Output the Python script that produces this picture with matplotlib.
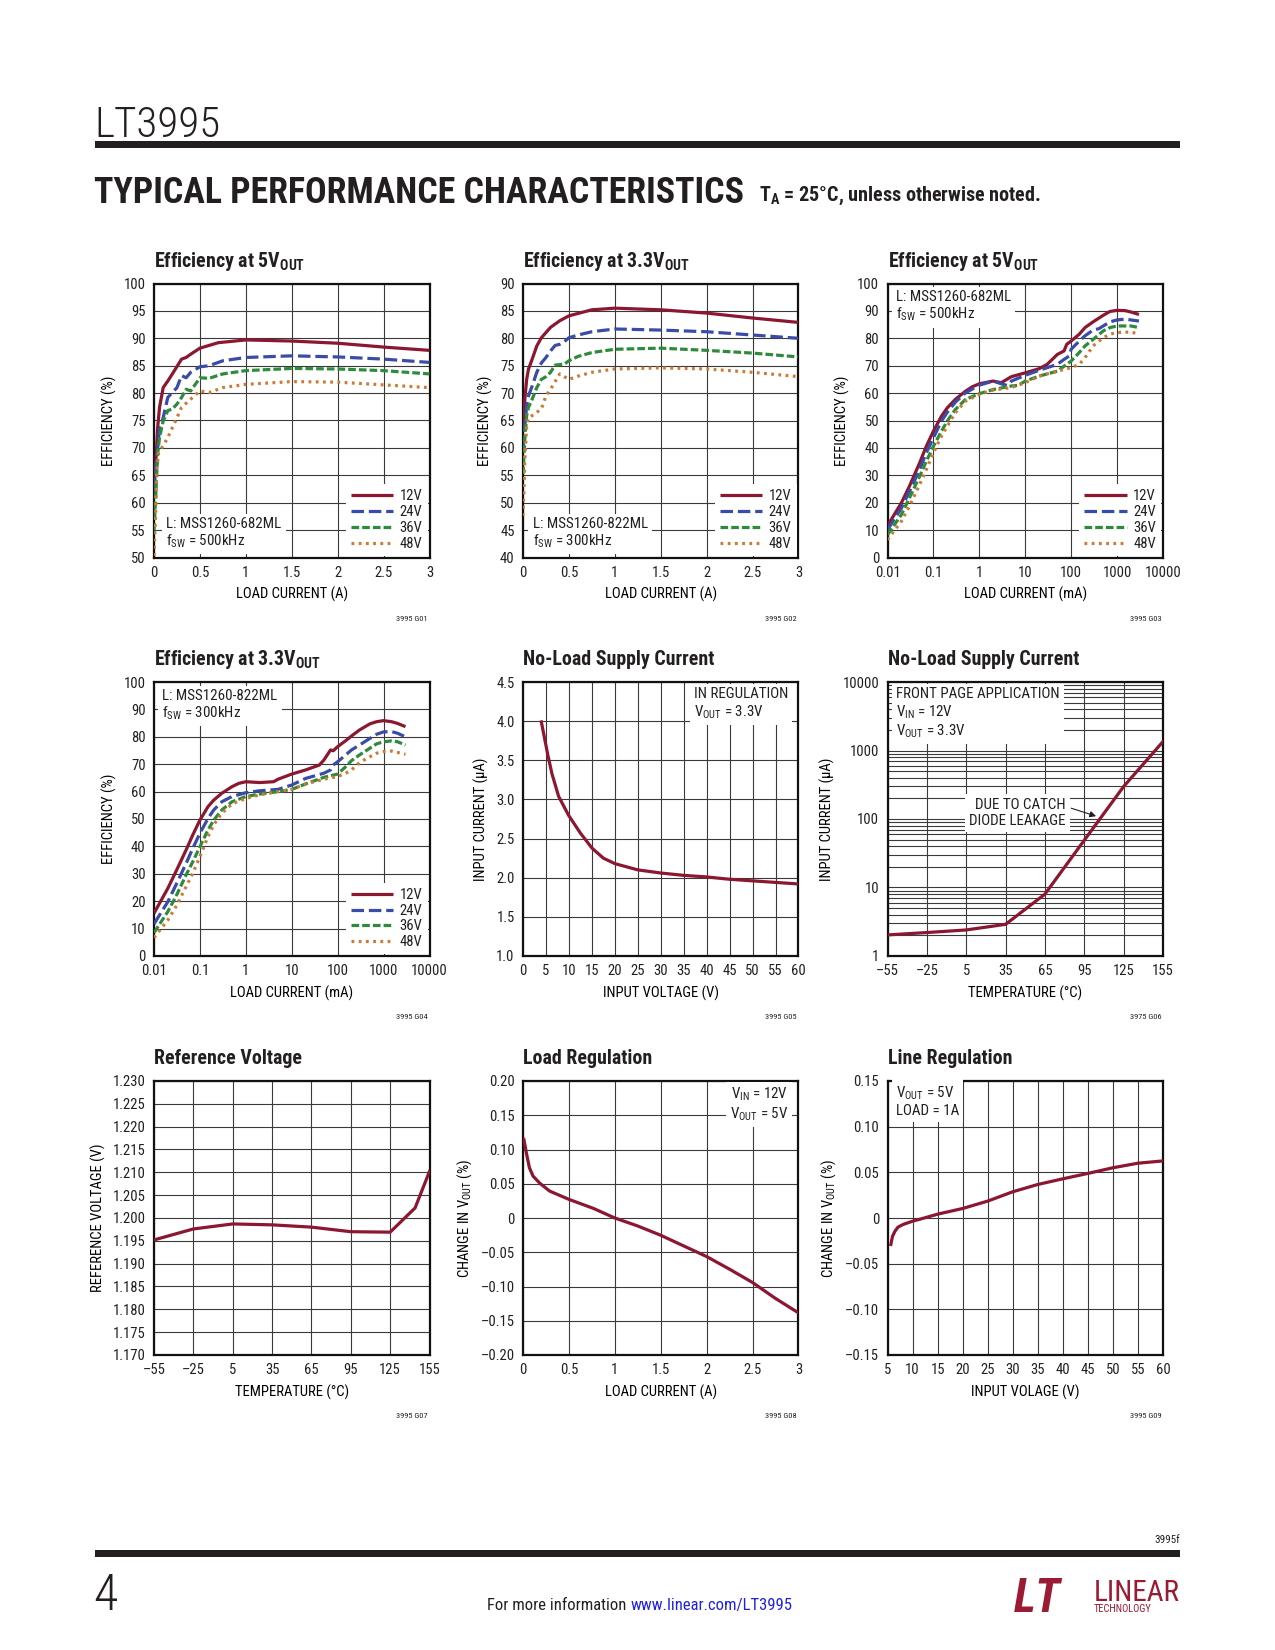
import matplotlib
matplotlib.use("Agg")
import matplotlib.pyplot as plt
from matplotlib import font_manager as fm
from matplotlib.patches import Rectangle

# ---------------- DATA ----------------
series_names = ["12V", "24V", "36V", "48V"]

# Efficiency at 5VOUT (linear, A)
e1_x12 = [0.0, 0.02, 0.04, 0.06, 0.1, 0.15, 0.2, 0.3, 0.35, 0.4, 0.5, 0.7, 1.0, 1.5, 2.0, 2.5, 3.0]
e1_y12 = [63.1, 67.6, 73.7, 77.4, 81.0, 82.2, 83.5, 86.2, 86.5, 87.1, 88.2, 89.2, 89.7, 89.5, 89.1, 88.4, 87.8]
e1_x24 = [0.0, 0.04, 0.06, 0.1, 0.15, 0.2, 0.25, 0.3, 0.35, 0.4, 0.5, 0.6, 0.75, 1.0, 1.5, 2.0, 2.5, 3.0]
e1_y24 = [62.2, 70.0, 73.4, 75.5, 79.2, 80.1, 81.0, 83.2, 82.8, 83.8, 84.8, 85.0, 85.9, 86.5, 86.8, 86.6, 86.2, 85.6]
e1_x36 = [0.0, 0.02, 0.04, 0.06, 0.1, 0.15, 0.2, 0.25, 0.3, 0.35, 0.4, 0.45, 0.5, 0.6, 0.75, 1.0, 1.5, 2.0, 2.5, 3.0]
e1_y36 = [54.9, 61.6, 68.9, 71.9, 74.9, 76.8, 77.1, 78.0, 79.2, 80.7, 80.4, 81.6, 82.8, 82.7, 83.5, 84.1, 84.5, 84.4, 84.1, 83.5]
e1_x48 = [0.0, 0.02, 0.03, 0.05, 0.1, 0.15, 0.2, 0.25, 0.3, 0.4, 0.5, 0.6, 0.75, 1.0, 1.5, 2.0, 2.5, 3.0]
e1_y48 = [50.3, 59.1, 65.8, 69.2, 70.4, 71.9, 73.7, 75.5, 77.4, 78.9, 80.4, 80.1, 81.0, 81.6, 82.1, 82.0, 81.5, 81.0]

# Efficiency at 3.3VOUT (linear, A)
e2_x12 = [0.0, 0.02, 0.04, 0.06, 0.1, 0.15, 0.2, 0.3, 0.4, 0.5, 0.75, 1.0, 1.5, 2.0, 2.5, 3.0]
e2_y12 = [63.7, 68.9, 72.5, 74.4, 76.2, 78.6, 80.1, 82.0, 83.2, 84.1, 85.2, 85.5, 85.2, 84.6, 83.7, 82.9]
e2_x24 = [0.0, 0.02, 0.04, 0.06, 0.1, 0.15, 0.2, 0.25, 0.3, 0.35, 0.4, 0.45, 0.5, 0.6, 0.75, 1.0, 1.5, 2.0, 2.5, 3.0]
e2_y24 = [59.8, 64.0, 67.7, 69.5, 71.3, 73.8, 75.5, 76.5, 77.7, 78.7, 78.9, 79.4, 80.1, 80.6, 81.2, 81.7, 81.5, 81.2, 80.6, 80.0]
e2_x36 = [0.0, 0.02, 0.04, 0.06, 0.1, 0.15, 0.2, 0.25, 0.3, 0.35, 0.45, 0.5, 0.6, 0.75, 1.0, 1.5, 2.0, 2.5, 3.0]
e2_y36 = [55.2, 61.6, 65.9, 67.4, 68.9, 71.0, 72.5, 73.0, 73.8, 75.1, 75.3, 75.9, 76.7, 77.4, 78.0, 78.2, 77.8, 77.3, 76.6]
e2_x48 = [0.0, 0.01, 0.02, 0.04, 0.06, 0.1, 0.15, 0.2, 0.25, 0.3, 0.35, 0.4, 0.5, 0.6, 0.75, 1.0, 1.5, 2.0, 2.5, 3.0]
e2_y48 = [47.6, 51.9, 57.9, 64.0, 65.5, 65.9, 66.5, 67.1, 69.5, 70.7, 72.1, 73.5, 72.5, 73.1, 73.8, 74.4, 74.6, 74.4, 73.8, 73.0]

# Efficiency at 5VOUT (log, mA)
e3_x12 = [0.01, 0.02, 0.03, 0.05, 0.07, 0.1, 0.15, 0.2, 0.3, 0.5, 0.7, 1, 2, 3, 5, 10, 20, 30, 50, 70, 80, 100, 150, 200, 300, 500, 700, 1000, 1500, 2000, 3000]
e3_y12 = [11.6, 19.9, 26.0, 34.5, 40.6, 46.1, 51.6, 54.6, 57.7, 60.7, 62.3, 63.4, 64.4, 63.8, 66.0, 67.4, 68.9, 70.5, 74.1, 75.4, 77.8, 79.0, 81.5, 83.9, 86.0, 88.4, 89.8, 90.2, 90.1, 89.6, 88.7]
e3_x24 = [0.01, 0.02, 0.03, 0.05, 0.07, 0.1, 0.15, 0.2, 0.3, 0.5, 1, 2, 3, 4, 5, 10, 20, 50, 70, 90, 100, 150, 200, 300, 400, 500, 700, 1000, 1500, 2000, 3000]
e3_y24 = [10.1, 18.0, 24.1, 32.1, 38.2, 43.7, 49.8, 53.0, 56.7, 60.1, 62.9, 64.4, 63.4, 62.8, 64.4, 66.5, 68.3, 70.5, 72.3, 73.5, 76.0, 79.0, 80.9, 83.0, 83.5, 84.5, 86.0, 86.7, 87.0, 86.7, 86.3]
e3_x36 = [0.01, 0.02, 0.03, 0.05, 0.07, 0.1, 0.15, 0.2, 0.3, 0.5, 1, 2, 5, 7, 10, 20, 50, 100, 150, 200, 300, 500, 700, 1000, 2000, 3000]
e3_y36 = [8.3, 15.6, 21.7, 29.6, 35.1, 40.6, 46.1, 49.8, 54.0, 57.7, 59.8, 61.3, 62.6, 62.8, 64.4, 66.2, 68.0, 71.7, 74.8, 77.2, 79.6, 82.7, 83.9, 84.5, 84.5, 83.9]
e3_x48 = [0.01, 0.02, 0.03, 0.05, 0.07, 0.1, 0.15, 0.2, 0.3, 0.5, 1, 2, 5, 10, 20, 50, 100, 150, 200, 300, 500, 700, 1000, 2000, 3000]
e3_y48 = [6.5, 13.2, 18.7, 26.6, 32.1, 38.2, 44.3, 47.9, 52.8, 57.1, 59.5, 61.1, 62.0, 63.8, 66.2, 68.0, 69.3, 70.5, 72.9, 77.2, 80.2, 81.5, 82.1, 82.3, 81.5]

# Efficiency at 3.3VOUT (log, mA)
e4_x12 = [0.01, 0.02, 0.03, 0.05, 0.07, 0.1, 0.15, 0.2, 0.3, 0.5, 0.7, 1, 2, 4, 5, 10, 20, 40, 50, 70, 80, 100, 150, 200, 300, 500, 700, 1000, 1500, 2000, 3000]
e4_y12 = [15.6, 24.7, 30.8, 38.7, 44.2, 49.6, 54.5, 56.9, 59.4, 61.8, 63.0, 63.6, 63.3, 63.6, 64.5, 66.4, 67.9, 69.7, 71.5, 75.2, 74.9, 76.4, 78.6, 80.3, 82.5, 84.7, 85.5, 85.9, 85.5, 84.9, 83.7]
e4_x24 = [0.01, 0.02, 0.03, 0.05, 0.07, 0.1, 0.15, 0.2, 0.3, 0.5, 1, 2, 5, 10, 20, 50, 70, 80, 100, 150, 200, 300, 500, 700, 1000, 1500, 2000, 3000]
e4_y24 = [11.7, 19.8, 25.9, 33.8, 39.3, 44.8, 50.2, 53.3, 56.3, 58.2, 59.6, 60.3, 60.8, 62.4, 64.8, 66.7, 67.9, 69.7, 70.9, 73.4, 75.2, 77.0, 79.4, 80.9, 81.8, 81.9, 81.3, 80.0]
e4_x36 = [0.01, 0.02, 0.03, 0.05, 0.07, 0.1, 0.15, 0.2, 0.3, 0.5, 1, 2, 5, 10, 20, 50, 100, 150, 200, 300, 500, 700, 1000, 1500, 2000, 3000]
e4_y36 = [8.5, 16.2, 21.7, 29.6, 34.4, 39.9, 46.0, 49.6, 53.3, 56.3, 58.2, 59.1, 60.0, 60.8, 62.8, 65.2, 66.4, 69.1, 71.3, 73.4, 75.8, 77.4, 78.2, 78.5, 78.2, 77.0]
e4_x48 = [0.01, 0.02, 0.03, 0.05, 0.07, 0.1, 0.15, 0.2, 0.3, 0.5, 1, 2, 5, 10, 20, 50, 100, 150, 200, 300, 500, 700, 1000, 1500, 2000, 3000]
e4_y48 = [6.7, 13.1, 18.0, 25.3, 30.2, 36.3, 43.6, 47.9, 52.1, 55.5, 57.5, 58.8, 60.0, 60.8, 62.8, 64.5, 65.5, 66.7, 67.9, 70.6, 72.7, 74.0, 74.6, 74.8, 74.3, 73.6]

# No-load supply current vs input voltage
nl_vin = [4.0, 5.4, 6.3, 7.75, 9.9, 12.5, 15, 17.5, 20, 25, 30, 35, 40, 45, 50, 55, 60]
nl_iq = [3.99, 3.57, 3.33, 3.04, 2.80, 2.57, 2.38, 2.25, 2.18, 2.10, 2.06, 2.03, 2.01, 1.98, 1.96, 1.94, 1.92]

# No-load supply current vs temperature
nt_temp = [-55, -25, 5, 35, 65, 95, 125, 155]
nt_iq = [2.03, 2.2, 2.4, 2.9, 8.0, 49, 298, 1350]

# Reference voltage vs temperature
rv_temp = [-55, -25, 5, 35, 65, 95, 125, 144, 155]
rv_v = [1.1952, 1.1976, 1.1987, 1.1985, 1.1980, 1.1970, 1.1969, 1.2022, 1.2102]

# Load regulation
lr_i = [0.01, 0.04, 0.07, 0.11, 0.185, 0.29, 0.5, 0.765, 1.0, 1.25, 1.5, 1.75, 2.0, 2.25, 2.5, 2.75, 3.0]
lr_dv = [0.1146, 0.0927, 0.0733, 0.061, 0.0505, 0.0393, 0.0272, 0.0141, 0.0, -0.0117, -0.0252, -0.0408,
         -0.0563, -0.0748, -0.0942, -0.1175, -0.1385]

# Line regulation
ln_vin = [5.67, 6.0, 6.5, 7.1, 8.1, 10, 12, 15, 20, 25, 30, 35, 40, 45, 50, 55, 60]
ln_dv = [-0.029, -0.020, -0.0144, -0.010, -0.0071, -0.0035, -0.0005, 0.0042, 0.0104, 0.0185, 0.0287,
         0.0367, 0.0429, 0.0488, 0.055, 0.0600, 0.0625]

# tick labels
lin3_ticks = [0, 0.5, 1, 1.5, 2, 2.5, 3]
lin3_labels = ["0", "0.5", "1", "1.5", "2", "2.5", "3"]
log_ticks = [0.01, 0.1, 1, 10, 100, 1000, 10000]
log_labels = ["0.01", "0.1", "1", "10", "100", "1000", "10000"]
temp_ticks = [-55, -25, 5, 35, 65, 95, 125, 155]
temp_labels = ["\u201355", "\u201325", "5", "35", "65", "95", "125", "155"]

# ---------------- STYLE ----------------
names = {f.name for f in fm.fontManager.ttflist}
COND = next((n for n in ["Liberation Sans Narrow", "Roboto Condensed", "Open Sans Condensed",
                         "Liberation Sans"] if n in names), "DejaVu Sans")
plt.rcParams["font.family"] = [COND, "DejaVu Sans"]
plt.rcParams["lines.scale_dashes"] = False
TXT = "#231F20"
GRID = "#3a3a3a"
plt.rcParams["text.color"] = TXT

COLORS = ["#8C1730", "#3A4BA8", "#2F8B3C", "#CC7A34"]
STYLES = ["-", (0, (9, 3.5)), (0, (5.5, 2.2)), (0, (2, 3.2))]
LW = 2.3

W, H = 1275, 1650
fig = plt.figure(figsize=(W / 100, H / 100), dpi=100)

COLS = [154, 523, 887.5]
ROWS = [283.5, 682, 1081]
AW, AH = 275.5, 274


def make_ax(c, r):
    return fig.add_axes([COLS[c] / W, 1 - (ROWS[r] + AH) / H, AW / W, AH / H])


def setup(ax, xlim, ylim, xticks, xlabels, yticks, ylabels, xlabel, ylabel, title, gid,
          xlog=False, ylog=False):
    if xlog:
        ax.set_xscale("log")
    if ylog:
        ax.set_yscale("log")
    ax.set_xlim(*xlim)
    ax.set_ylim(*ylim)
    ax.set_xticks(xticks, xlabels)
    ax.set_yticks(yticks, ylabels)
    ax.minorticks_off()
    ax.grid(True, which="major", color=GRID, lw=0.8)
    ax.set_axisbelow(True)
    ax.tick_params(length=0, pad=6, labelsize=10.5, colors=TXT)
    for s in ax.spines.values():
        s.set_linewidth(1.6)
        s.set_color("#111111")
    ax.set_xlabel(xlabel, fontsize=10.5, labelpad=5)
    ax.set_ylabel(ylabel, fontsize=10.5, labelpad=5)
    ax.annotate(title, xy=(0, 1), xycoords="axes fraction", xytext=(0, 12),
                textcoords="offset points", ha="left", va="baseline",
                fontsize=14.3, fontweight="bold")
    ax.annotate(gid, xy=(1, 0), xycoords="axes fraction", xytext=(-1, -44),
                textcoords="offset points", ha="right", va="center", fontsize=6)


def note(ax, x, y, s, ha="left"):
    ax.text(x, y, s, transform=ax.transAxes, ha=ha, va="center", fontsize=10.8,
            multialignment=ha, linespacing=1.15, zorder=3,
            bbox=dict(fc="white", ec="none", pad=3))


def four(ax, xs, ys):
    for x, y, c, ls, lab in zip(xs, ys, COLORS, STYLES, series_names):
        ax.plot(x, y, color=c, ls=ls, lw=LW, label=lab, zorder=4, solid_capstyle="butt")
    leg = ax.legend(loc="lower right", fontsize=10.5, handlelength=2.9, handletextpad=0.45,
                    labelspacing=0.12, borderpad=0.35, borderaxespad=0.12, frameon=True,
                    fancybox=False, framealpha=1, facecolor="white", edgecolor="none")
    leg.get_frame().set_linewidth(0)


SUB_OUT = r"$\mathregular{_{OUT}}$"
SUB_SW = r"$\mathregular{_{SW}}$"
SUB_IN = r"$\mathregular{_{IN}}$"

# ---- Row 1 ----
ax = make_ax(0, 0)
setup(ax, (0, 3), (50, 100), lin3_ticks, lin3_labels, list(range(50, 101, 5)),
      [str(v) for v in range(50, 101, 5)], "LOAD CURRENT (A)", "EFFICIENCY (%)",
      "Efficiency at 5V" + SUB_OUT, "3995 G01")
four(ax, [e1_x12, e1_x24, e1_x36, e1_x48], [e1_y12, e1_y24, e1_y36, e1_y48])
note(ax, 0.045, 0.088, "L: MSS1260-682ML\nf" + SUB_SW + " = 500kHz")

ax = make_ax(1, 0)
setup(ax, (0, 3), (40, 90), lin3_ticks, lin3_labels, list(range(40, 91, 5)),
      [str(v) for v in range(40, 91, 5)], "LOAD CURRENT (A)", "EFFICIENCY (%)",
      "Efficiency at 3.3V" + SUB_OUT, "3995 G02")
four(ax, [e2_x12, e2_x24, e2_x36, e2_x48], [e2_y12, e2_y24, e2_y36, e2_y48])
note(ax, 0.035, 0.088, "L: MSS1260-822ML\nf" + SUB_SW + " = 300kHz")

ax = make_ax(2, 0)
setup(ax, (0.01, 10000), (0, 100), log_ticks, log_labels, list(range(0, 101, 10)),
      [str(v) for v in range(0, 101, 10)], "LOAD CURRENT (mA)", "EFFICIENCY (%)",
      "Efficiency at 5V" + SUB_OUT, "3995 G03", xlog=True)
four(ax, [e3_x12, e3_x24, e3_x36, e3_x48], [e3_y12, e3_y24, e3_y36, e3_y48])
note(ax, 0.03, 0.915, "L: MSS1260-682ML\nf" + SUB_SW + " = 500kHz")

# ---- Row 2 ----
ax = make_ax(0, 1)
setup(ax, (0.01, 10000), (0, 100), log_ticks, log_labels, list(range(0, 101, 10)),
      [str(v) for v in range(0, 101, 10)], "LOAD CURRENT (mA)", "EFFICIENCY (%)",
      "Efficiency at 3.3V" + SUB_OUT, "3995 G04", xlog=True)
four(ax, [e4_x12, e4_x24, e4_x36, e4_x48], [e4_y12, e4_y24, e4_y36, e4_y48])
note(ax, 0.03, 0.915, "L: MSS1260-822ML\nf" + SUB_SW + " = 300kHz")

ax = make_ax(1, 1)
setup(ax, (0, 60), (1.0, 4.5), list(range(0, 61, 5)), [str(v) for v in range(0, 61, 5)],
      [1.0, 1.5, 2.0, 2.5, 3.0, 3.5, 4.0, 4.5],
      ["1.0", "1.5", "2.0", "2.5", "3.0", "3.5", "4.0", "4.5"],
      "INPUT VOLTAGE (V)", "INPUT CURRENT (\u03bcA)", "No-Load Supply Current", "3995 G05")
ax.plot(nl_vin, nl_iq, color=COLORS[0], lw=LW, zorder=4)
note(ax, 0.62, 0.92, "IN REGULATION\nV" + SUB_OUT + " = 3.3V")

ax = make_ax(2, 1)
setup(ax, (-55, 155), (1, 10000), temp_ticks, temp_labels, [1, 10, 100, 1000, 10000],
      ["1", "10", "100", "1000", "10000"], "TEMPERATURE (\u00b0C)", "INPUT CURRENT (\u03bcA)",
      "No-Load Supply Current", "3975 G06", ylog=True)
ax.yaxis.set_minor_locator(matplotlib.ticker.LogLocator(base=10, subs=range(2, 10), numticks=20))
ax.yaxis.set_minor_formatter(matplotlib.ticker.NullFormatter())
ax.tick_params(which="minor", length=0)
ax.grid(True, which="minor", axis="y", color=GRID, lw=0.8)
ax.plot(nt_temp, nt_iq, color=COLORS[0], lw=LW, zorder=4)
note(ax, 0.03, 0.885, "FRONT PAGE APPLICATION\nV" + SUB_IN + " = 12V\nV" + SUB_OUT + " = 3.3V")
ax.annotate("DUE TO CATCH\nDIODE LEAKAGE", xy=(104, 110), xycoords="data",
            xytext=(0.647, 0.522), textcoords="axes fraction", ha="right", va="center",
            multialignment="right", fontsize=10.8, linespacing=1.15, zorder=3,
            bbox=dict(fc="white", ec="none", pad=3),
            arrowprops=dict(arrowstyle="-|>", color=TXT, lw=0.8, shrinkA=1, shrinkB=0,
                            relpos=(1.0, 0.72), mutation_scale=9))

# ---- Row 3 ----
ax = make_ax(0, 2)
rv_ticks = [1.170 + 0.005 * i for i in range(13)]
setup(ax, (-55, 155), (1.170, 1.230), temp_ticks, temp_labels, rv_ticks,
      ["%.3f" % v for v in rv_ticks], "TEMPERATURE (\u00b0C)", "REFERENCE VOLTAGE (V)",
      "Reference Voltage", "3995 G07")
ax.plot(rv_temp, rv_v, color=COLORS[0], lw=LW, zorder=4)

ax = make_ax(1, 2)
lr_ticks = [-0.20, -0.15, -0.10, -0.05, 0, 0.05, 0.10, 0.15, 0.20]
lr_labels = ["\u20130.20", "\u20130.15", "\u20130.10", "\u20130.05", "0", "0.05", "0.10", "0.15", "0.20"]
setup(ax, (0, 3), (-0.20, 0.20), lin3_ticks, lin3_labels, lr_ticks, lr_labels,
      "LOAD CURRENT (A)", "CHANGE IN V" + SUB_OUT + " (%)", "Load Regulation", "3995 G08")
ax.plot(lr_i, lr_dv, color=COLORS[0], lw=LW, zorder=4)
note(ax, 0.962, 0.915, "V" + SUB_IN + " = 12V\nV" + SUB_OUT + " = 5V", ha="right")

ax = make_ax(2, 2)
ln_ticks = [-0.15, -0.10, -0.05, 0, 0.05, 0.10, 0.15]
ln_labels = ["\u20130.15", "\u20130.10", "\u20130.05", "0", "0.05", "0.10", "0.15"]
setup(ax, (5, 60), (-0.15, 0.15), list(range(5, 61, 5)), [str(v) for v in range(5, 61, 5)],
      ln_ticks, ln_labels, "INPUT VOLAGE (V)", "CHANGE IN V" + SUB_OUT + " (%)",
      "Line Regulation", "3995 G09")
ax.plot(ln_vin, ln_dv, color=COLORS[0], lw=LW, zorder=4)
note(ax, 0.03, 0.925, "V" + SUB_OUT + " = 5V\nLOAD = 1A")

# ---------------- PAGE DECORATION ----------------
def fx(x):
    return x / W


def fy(y):
    return 1 - y / H


fig.text(fx(94), fy(137), "LT3995", fontsize=31, fontweight="light", ha="left", va="baseline",
         color=TXT)
fig.add_artist(Rectangle((fx(95), fy(148)), fx(1180) - fx(95), 7 / H, transform=fig.transFigure,
                         color=TXT, lw=0))
fig.text(fx(94), fy(203), "TYPICAL PERFORMANCE CHARACTERISTICS", fontsize=25.8, fontweight="bold",
         ha="left", va="baseline", color=TXT)
fig.text(fx(759), fy(201), "T$\\mathregular{_A}$ = 25\u00b0C, unless otherwise noted.", fontsize=14.5,
         fontweight="bold", ha="left", va="baseline", color=TXT)

fig.text(fx(1180), fy(1543), "3995f", fontsize=8, ha="right", va="baseline", color=TXT)
fig.add_artist(Rectangle((fx(95), fy(1557)), fx(1180) - fx(95), 7 / H, transform=fig.transFigure,
                         color=TXT, lw=0))
fig.text(fx(93), fy(1610), "4", fontsize=36, fontweight="light", ha="left", va="baseline", color=TXT)
fig.text(fx(630), fy(1610), "For more information ", fontsize=12, ha="right", va="baseline", color=TXT)
fig.text(fx(631), fy(1610), "www.linear.com/LT3995", fontsize=12, ha="left", va="baseline",
         color="#2020E0")
fig.text(fx(1014), fy(1612), "LT", fontsize=34, fontweight="bold", fontstyle="italic",
         ha="left", va="baseline", color="#9A1B32")
fig.text(fx(1094), fy(1601), "LINEAR", fontsize=21, ha="left", va="baseline", color="#9A1B32")
fig.text(fx(1094), fy(1612), "TECHNOLOGY", fontsize=7.5, ha="left", va="baseline", color="#9A1B32")

fig.savefig("out.png", dpi=100)
